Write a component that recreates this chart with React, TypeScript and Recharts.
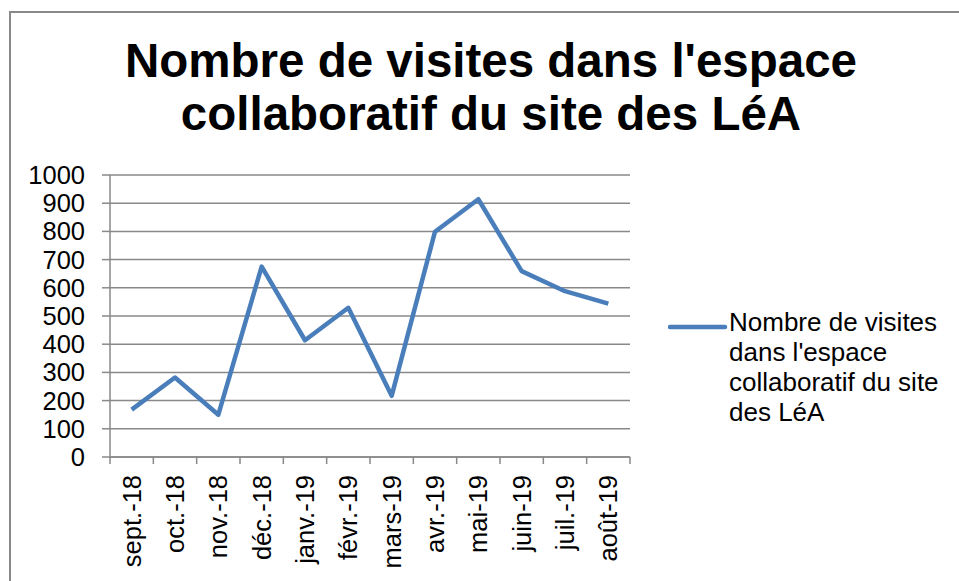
import React from 'react';
import {CartesianGrid, Legend, Line, LineChart, XAxis, YAxis} from 'recharts';

const months: string[] = ['sept.-18', 'oct.-18', 'nov.-18', 'déc.-18', 'janv.-19', 'févr.-19',
    'mars-19', 'avr.-19', 'mai-19', 'juin-19', 'juil.-19', 'août-19'];
const visits: number[] = [168, 282, 150, 675, 414, 529, 217, 799, 914, 659, 588, 544];
const yTicks: number[] = [0, 100, 200, 300, 400, 500, 600, 700, 800, 900, 1000];
const seriesName = "Nombre de visites dans l'espace collaboratif du site des LéA";
const legendLines: string[] = ['Nombre de visites', "dans l'espace", 'collaboratif du site', 'des LéA'];

const data = months.map((m, i) => ({month: m, visites: visits[i]}));

const FONT = '"Liberation Sans", Arial, sans-serif';
const GRID = '#898989';
const BLUE = '#4A7EBB';

function MonthTick(props: any): React.JSX.Element {
    const {x, y, payload, index, width, visibleTicksCount} = props;
    const half = payload.offset ?? width / visibleTicksCount / 2;
    const last = index === months.length - 1;
    return (
        <g>
            <line x1={x - half} x2={x - half} y1={y - 18} y2={y - 11} stroke={GRID} strokeWidth={1.5}/>
            {last && <line x1={x + half} x2={x + half} y1={y - 18} y2={y - 11} stroke={GRID} strokeWidth={1.5}/>}
            <text transform={`translate(${x},${y}) rotate(-90)`} textAnchor="end" dominantBaseline="central"
                  fontSize={25.5} fill="#000" fontFamily={FONT}>
                {payload.value}
            </text>
        </g>
    );
}

function LegendBox(props: any): React.JSX.Element {
    const color = props.payload?.[0]?.color ?? BLUE;
    return (
        <div style={{position: 'relative', width: 290, height: 130, fontFamily: FONT}}>
            <svg width={60} height={10} style={{position: 'absolute', left: 0, top: 9}}>
                <line x1={2} x2={57} y1={5} y2={5} stroke={color} strokeWidth={4.5} strokeLinecap="round"/>
            </svg>
            <div style={{position: 'absolute', left: 61, top: -6, fontSize: 26, lineHeight: '30px', color: '#000',
                textAlign: 'left', whiteSpace: 'nowrap'}}>
                {legendLines.map((l) => <div key={l}>{l}</div>)}
            </div>
        </div>
    );
}

export default function App(): React.JSX.Element {
    return (
        <div style={{position: 'absolute', left: 0, top: 0, width: 959, height: 581, overflow: 'hidden', background: '#fff'}}>
            <div style={{position: 'absolute', left: 9, top: 11, width: 1000, height: 1000, border: `2px solid ${GRID}`}}/>
            <div style={{position: 'absolute', left: 0, top: 33.6, width: 982, textAlign: 'center', fontFamily: FONT,
                fontSize: 47.5, fontWeight: 'bold', lineHeight: '53px', color: '#000'}}>
                Nombre de visites dans l'espace<br/>collaboratif du site des LéA
            </div>
            <LineChart width={959} height={581} data={data} margin={{top: 175, right: 329, bottom: 4, left: 10}}
                       style={{position: 'absolute', left: 0, top: 0, fontFamily: FONT}}>
                <CartesianGrid vertical={false} stroke={GRID} strokeWidth={1.5}/>
                <XAxis dataKey="month" scale="band" interval={0} height={120} tickLine={false} tickSize={7}
                       tickMargin={11} axisLine={{stroke: GRID, strokeWidth: 1.5}} tick={<MonthTick/>}/>
                <YAxis domain={[0, 1000]} ticks={yTicks} width={100} tickSize={8} tickMargin={17} interval={0}
                       axisLine={{stroke: GRID, strokeWidth: 1.5}} tickLine={{stroke: GRID, strokeWidth: 1.5}}
                       tick={{fontSize: 25.5, fill: '#000'}}/>
                <Legend content={<LegendBox/>} layout="vertical" align="center" verticalAlign="middle"
                        wrapperStyle={{position: 'absolute', left: 668, top: 313, width: 290, height: 130}}/>
                <Line type="linear" dataKey="visites" name={seriesName} stroke={BLUE} strokeWidth={4.5}
                      dot={false} activeDot={false} isAnimationActive={false} strokeLinejoin="round"/>
            </LineChart>
        </div>
    );
}
